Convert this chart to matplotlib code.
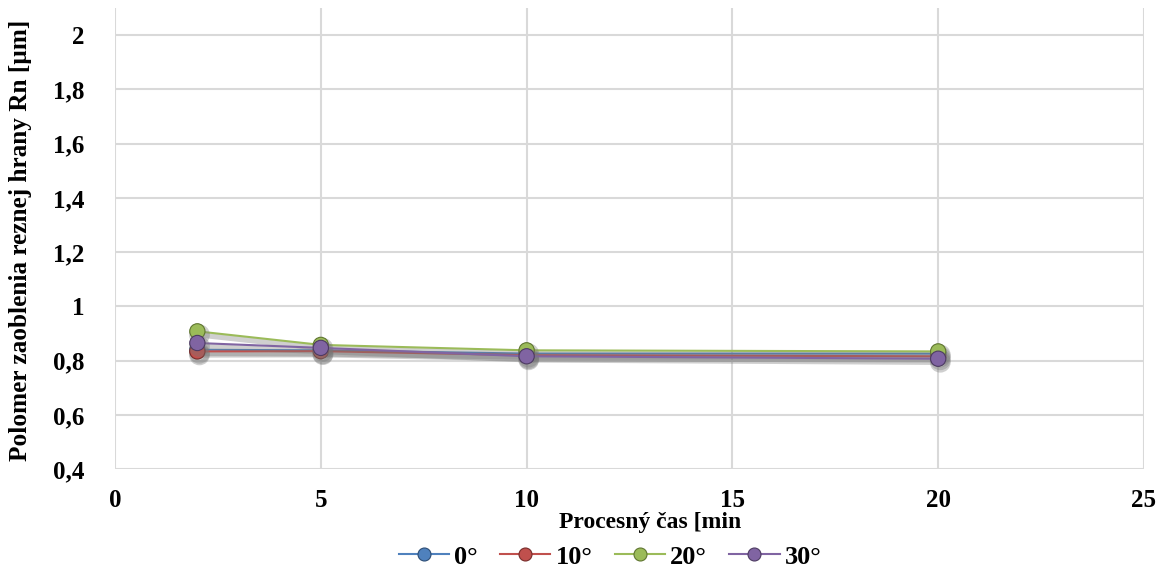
import matplotlib.pyplot as plt
import matplotlib.patheffects as pe

# Data
cas = [2, 5, 10, 20]
uhol_0 = [0.840, 0.838, 0.826, 0.826]
uhol_10 = [0.834, 0.835, 0.820, 0.816]
uhol_20 = [0.908, 0.858, 0.838, 0.834]
uhol_30 = [0.865, 0.847, 0.816, 0.807]
labels = ['0°', '10°', '20°', '30°']
farby = ['#4F81BD', '#C0504D', '#9BBB59', '#8064A2']
okraje = ['#2c4d75', '#772c2a', '#5f7530', '#4d3b62']

plt.rcParams['font.family'] = ['Liberation Serif', 'DejaVu Serif']
plt.rcParams['font.weight'] = 'bold'

fig = plt.figure(figsize=(11.62, 5.77), dpi=100)
ax = fig.add_axes([0.099, 0.187, 0.8855, 0.799])

tien = [pe.SimpleLineShadow(offset=(1.5, -2.5), shadow_color='#777777', alpha=0.35, linewidth=4),
        pe.Normal()]

for y, lab, c, e in zip([uhol_0, uhol_10, uhol_20, uhol_30], labels, farby, okraje):
    ax.plot(cas, y, color=c, linewidth=1.5, marker='o', markersize=11,
            markerfacecolor=c, markeredgecolor=e, markeredgewidth=0.8,
            label=lab, path_effects=tien, zorder=3)

ax.set_xlim(0, 25)
ax.set_ylim(0.4, 2.1)
ax.set_xticks([0, 5, 10, 15, 20, 25])
ax.set_yticks([0.4, 0.6, 0.8, 1.0, 1.2, 1.4, 1.6, 1.8, 2.0])
ax.set_yticklabels(['0,4', '0,6', '0,8', '1', '1,2', '1,4', '1,6', '1,8', '2'])
ax.tick_params(axis='both', length=0, labelsize=18)
ax.tick_params(axis='y', pad=22)
ax.tick_params(axis='x', pad=14)
ax.grid(True, color='#d9d9d9', linewidth=1.5)
ax.set_axisbelow(True)
for s in ax.spines.values():
    s.set_visible(False)

ax.set_xlabel('Procesný čas [min', fontsize=17, fontweight='bold')
ax.set_ylabel('Polomer zaoblenia reznej hrany Rn [µm]', fontsize=18.2, fontweight='bold')
ax.xaxis.set_label_coords(0.52, -0.094)
ax.yaxis.set_label_coords(-0.081, 0.497)

leg = fig.legend(loc='center', bbox_to_anchor=(0.525, 0.035), ncol=4, frameon=False,
                 fontsize=19, handlelength=1.9, columnspacing=0.85, handletextpad=0.2, markerscale=0.85)
for ln in leg.get_lines():
    ln.set_path_effects([])

fig.savefig('out.png', dpi=100)
